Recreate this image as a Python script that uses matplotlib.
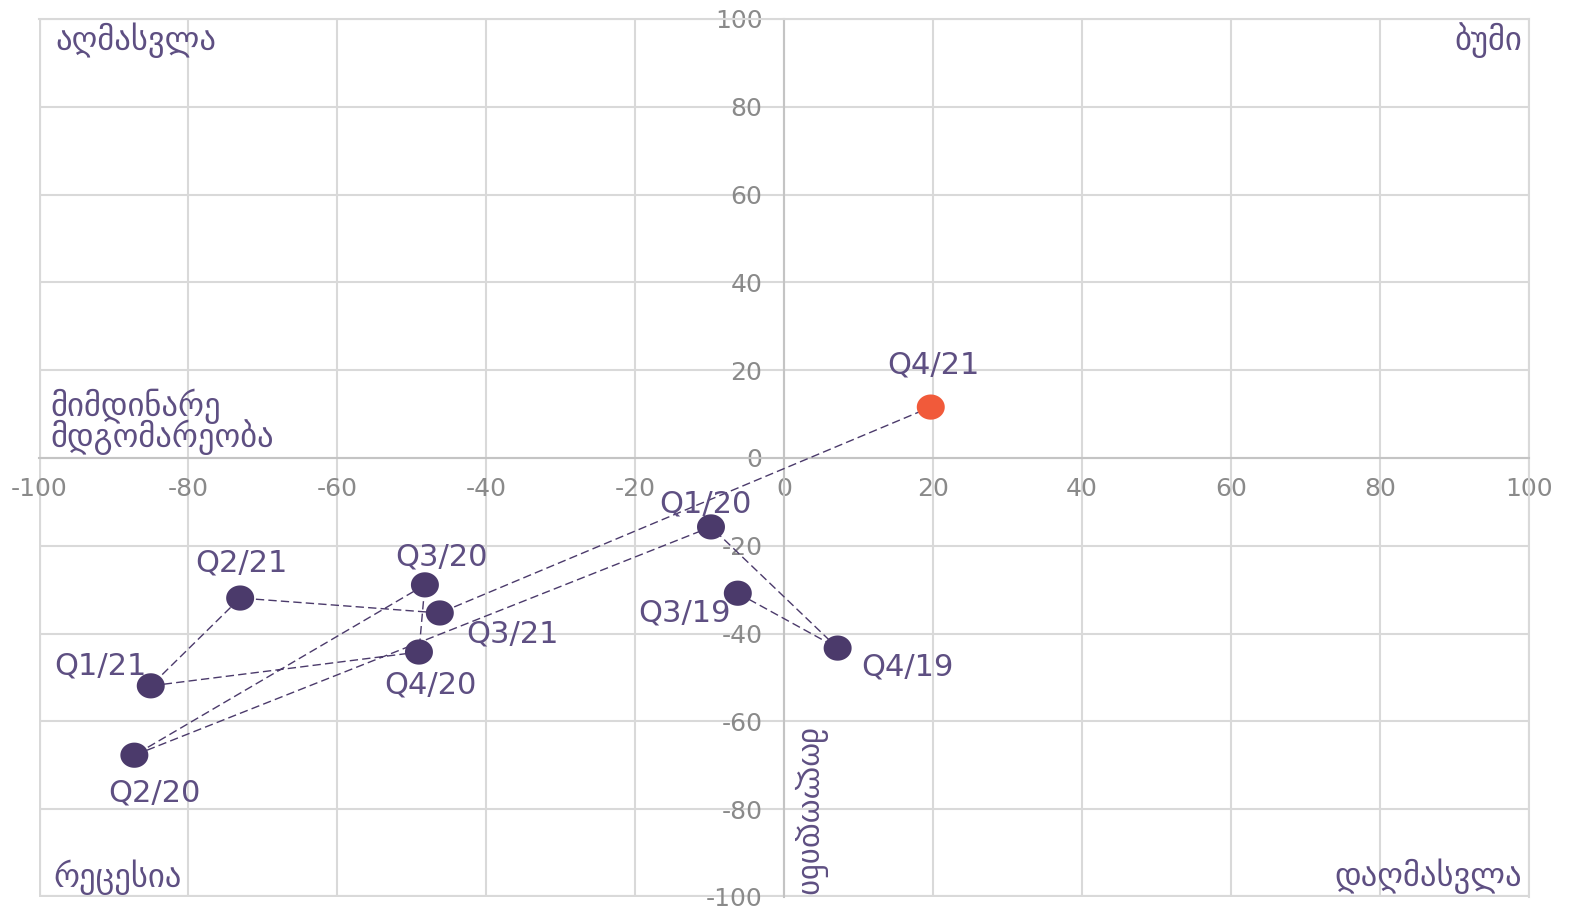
import matplotlib
matplotlib.use("Agg")
import matplotlib.pyplot as plt
import numpy as np
from matplotlib.path import Path

# ---- data ----
quarters = ["Q3/19", "Q4/19", "Q1/20", "Q2/20", "Q3/20", "Q4/20",
            "Q1/21", "Q2/21", "Q3/21", "Q4/21"]
current_situation = [-6.2, 7.2, -9.8, -87.2, -48.2, -49.0, -85.0, -73.0, -46.2, 19.7]
expectations = [-30.8, -43.3, -15.7, -67.7, -28.9, -44.2, -51.9, -31.9, -35.3, 11.6]
ticks = list(range(-100, 101, 20))
quadrant_labels = {"tl": "აღმასვლა", "tr": "ბუმი", "bl": "რეცესია", "br": "დაღმასვლა"}
x_label = "მიმდინარე\nმდგომარეობა"
y_label = "მოლოდინი"

# ---- style ----
PURPLE = "#4b3a6b"
TEXT_PURPLE = "#5e4f82"
ORANGE = "#f15a3a"
GRID = "#d9d9d9"
AXIS = "#c4c4c4"
TICK = "#8a8a8a"
# label offsets in pixels (dx, dy), dy positive = up
label_offsets = [(-53, -20), (70, -19), (-6, 23), (20, -38), (17, 28),
                 (11, -33), (-50, 20), (1, 35), (73, -21), (3, 42)]

DPI = 100
fig = plt.figure(figsize=(15.82, 9.17), dpi=DPI)
ax = fig.add_axes([39 / 1582, 1 - 897 / 917, 1490 / 1582, 878 / 917])
ax.set_xlim(-100, 100)
ax.set_ylim(-100, 100)
ax.set_xticks(ticks)
ax.set_yticks(ticks)
ax.grid(True, color=GRID, lw=1.5, zorder=0)
ax.set_axisbelow(True)

for s in ["top", "right"]:
    ax.spines[s].set_color(GRID)
    ax.spines[s].set_linewidth(1.5)
ax.spines["left"].set_position(("data", 0))
ax.spines["bottom"].set_position(("data", 0))
ax.spines["left"].set_color(AXIS)
ax.spines["bottom"].set_color(AXIS)
ax.spines["left"].set_linewidth(1.5)
ax.spines["bottom"].set_linewidth(1.5)
# outer border left/bottom
ax.axvline(-100, color=GRID, lw=3, zorder=0)
ax.axhline(-100, color=GRID, lw=3, zorder=0)

ax.tick_params(axis="both", length=0, labelsize=18, labelcolor=TICK)
ax.tick_params(axis="x", pad=13.5)
ax.tick_params(axis="y", pad=15.5)
ax.set_xticklabels([str(t) for t in ticks])
ax.set_yticklabels([str(t) for t in ticks])

# ellipse marker
theta = np.linspace(0, 2 * np.pi, 60)
verts = np.column_stack([np.cos(theta), 0.9 * np.sin(theta)])
ell = Path(verts, closed=True)

ax.plot(current_situation, expectations, color=PURPLE, lw=1.0,
        dashes=(6, 3), zorder=3)
colors = [PURPLE] * (len(quarters) - 1) + [ORANGE]
ax.scatter(current_situation, expectations, s=28 ** 2 * 0.72 ** 2,
           marker=ell, c=colors, edgecolors="none", zorder=4)

for q, x, y, (dx, dy) in zip(quarters, current_situation, expectations, label_offsets):
    ax.annotate(q, (x, y), xytext=(dx, dy), textcoords="offset pixels",
                ha="center", va="center", fontsize=22, color=TEXT_PURPLE, zorder=5)

gfs = 23.5
ax.text(-97.85, 95.2, quadrant_labels["tl"], ha="left", va="center", fontsize=gfs, color=TEXT_PURPLE)
ax.text(99.06, 95.2, quadrant_labels["tr"], ha="right", va="center", fontsize=gfs, color=TEXT_PURPLE)
ax.text(-98.1, -95.6, quadrant_labels["bl"], ha="left", va="center", fontsize=gfs, color=TEXT_PURPLE)
ax.text(99.06, -95.3, quadrant_labels["br"], ha="right", va="center", fontsize=gfs, color=TEXT_PURPLE)
ax.text(-98.5, 0.6, x_label, ha="left", va="bottom", fontsize=gfs, color=TEXT_PURPLE, linespacing=0.85)
ax.text(1.2, -100, y_label, ha="left", va="bottom", rotation=270, fontsize=22, color=TEXT_PURPLE)

fig.savefig("out.png", dpi=DPI)
